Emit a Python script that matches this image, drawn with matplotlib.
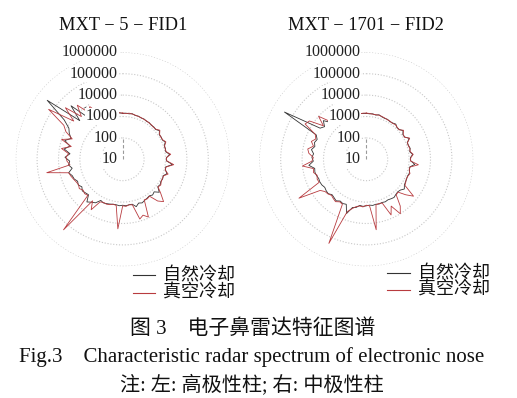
import numpy as np
import matplotlib
matplotlib.use("Agg")
import matplotlib.pyplot as plt
from matplotlib.lines import Line2D

plt.rcParams['font.family'] = ['Liberation Serif', 'Noto Sans CJK SC', 'DejaVu Sans']

# ---------------- data ----------------
titles = ["MXT − 5 − FID1", "MXT − 1701 − FID2"]
series_names = ["自然冷却", "真空冷却"]
tick_values = [10, 100, 1000, 10000, 100000, 1000000]
tick_labels = ["10", "100", "1000", "10000", "100000", "1000000"]

left_natural = [
    1400, 1450, 1400, 1500, 1350, 1400, 1300, 1350, 1250, 1300,
    1200, 1250, 1200, 1500, 1150, 1200, 1150, 1400, 1100, 1150,
    1100, 1600, 1100, 1100, 2200, 1100, 1150, 1500, 1100, 1200,
    1150, 1300, 1200, 2000, 1300, 1500, 1300, 1400, 1500, 1700,
    1500, 2000, 1400, 1400, 1500, 1400, 1500, 1400, 1400, 1500,
    1600, 1700, 1500, 2500, 3000, 4000, 2000, 2200, 2500, 2000,
    2500, 2200, 2800, 3000, 4000, 2500, 3500, 3000, 5000, 3000,
    6000, 3500, 7000, 4000, 6000, 8000, 20000, 300000, 5000, 30000,
    4000, 10000, 3000, 5000, 2500, 2200, 2000, 1800, 1600, 1500]

left_vacuum = [
    1450, 1400, 1500, 1450, 1400, 1350, 1350, 1300, 1300, 1250,
    1250, 1200, 1250, 1600, 1200, 1150, 1200, 1500, 1150, 1100,
    1150, 1800, 1100, 1150, 2500, 1150, 1100, 1700, 1150, 1150,
    1200, 1400, 1250, 2500, 5600, 3500, 1350, 1500, 1400, 9000,
    6000, 8000, 1500, 1400, 1600, 1500, 18000, 1500, 1400, 1600,
    1700, 1600, 1800, 6000, 2500, 200000, 2200, 2500, 2200, 2800,
    2400, 2600, 3000, 3500, 4000, 40000, 3000, 4000, 4500, 3500,
    8000, 3000, 10000, 3500, 9000, 15000, 150000, 8000, 40000, 6000,
    20000, 5000, 8000, 3000, 2600, 2200, 1900, 1700, 1600, 1500]

right_natural = [
    1400, 1350, 1400, 1300, 1450, 1300, 1250, 1300, 1200, 1250,
    1400, 1150, 1200, 1500, 1150, 1200, 1700, 1150, 1200, 1300,
    1150, 1500, 1150, 1200, 1900, 1150, 1200, 1300, 1200, 1250,
    1300, 1400, 1800, 1400, 1300, 1400, 1600, 1500, 1400, 1500,
    1400, 1500, 1400, 1500, 1400, 1500, 1600, 1500, 2000, 2200,
    5000, 2000, 2200, 2000, 2500, 2200, 2000, 2500, 2400, 2200,
    2500, 2600, 2500, 2800, 3000, 2800, 5000, 3000, 3500, 3000,
    4000, 3000, 3500, 3000, 4000, 260000, 4000, 3000, 5000, 2500,
    3000, 2200, 2000, 1800, 1700, 1600, 1500, 1500, 1450, 1400]

right_vacuum = [
    1450, 1400, 1350, 1350, 1400, 1350, 1300, 1250, 1250, 1200,
    1300, 1200, 1150, 1600, 1200, 1150, 1800, 1200, 1150, 1250,
    1200, 1600, 1200, 1150, 2800, 1200, 1150, 1400, 1250, 1200,
    1350, 1500, 6300, 3000, 1350, 1500, 5000, 10000, 3000, 7000,
    1500, 1400, 1500, 21000, 1500, 1400, 1700, 1600, 1800, 2500,
    4000, 200000, 2400, 2200, 2800, 2500, 2200, 2600, 2800, 4000,
    43000, 2800, 3000, 2600, 3500, 3200, 10000, 3500, 3000, 5000,
    6000, 3500, 5000, 3500, 4500, 20000, 16000, 3500, 10000, 3000,
    5000, 2500, 2200, 1900, 1700, 1600, 1600, 1500, 1400, 1450]

# ---------------- figure ----------------
W, H = 517, 398
fig = plt.figure(figsize=(W / 100, H / 100), dpi=100)

col_nat = '#333333'
col_vac = '#b83b3f'
ring_col = '#c8c8c8'

R = 107.0
centers = [(122.7, 159.3), (366.3, 159.3)]
datasets = [(left_natural, left_vacuum), (right_natural, right_vacuum)]

for k, ((cx, cy), (nat, vac), title) in enumerate(zip(centers, datasets, titles)):
    ax = fig.add_axes([(cx - R) / W, (H - cy - R) / H, 2 * R / W, 2 * R / H],
                      projection='polar')
    ax.set_theta_zero_location('N')
    ax.set_theta_direction(-1)
    ax.set_rscale('log')
    ax.set_rlim(10, 1e6)
    ax.set_xticks([])
    ax.set_rgrids(tick_values[1:], labels=[])
    ax.yaxis.grid(True, color=ring_col, linestyle=(0, (1, 1.6)), linewidth=0.8)
    ax.xaxis.grid(False)
    ax.spines['polar'].set_visible(False)
    ax.patch.set_alpha(0)

    n = len(nat)
    theta = np.linspace(0, 2 * np.pi, n, endpoint=False)
    th = np.append(theta, theta[0])
    ax.plot(th, np.append(nat, nat[0]), color=col_nat, lw=0.6, zorder=3)
    ax.plot(th, np.append(vac, vac[0]), color=col_vac, lw=0.6, zorder=4)

    ax.plot([0, 0], [10, 100], color='#9a9a9a', lw=0.8, ls=(0, (3, 2)), zorder=2)

    off = -3.4 if k == 0 else -4.3
    for v, lab in zip(tick_values, tick_labels):
        ax.annotate(lab, xy=(0, v), xytext=(off, 0), textcoords='offset points',
                    ha='right', va='center', fontsize=11.5, color='#222222',
                    annotation_clip=False, zorder=6,
                    bbox=dict(boxstyle='square,pad=0.05', fc='white', ec='none'))

    fig.text(cx / W, 1 - 25.5 / H, title, ha='center', va='center',
             fontsize=13.2, color='#111111')

# ---------------- legends ----------------
legend_pos = [((133, 155), 163, (275, 293)), ((387, 410), 418, (273, 290))]
for (x1, x2), tx, ys in legend_pos:
    for y, name, c in zip(ys, series_names, [col_nat, col_vac]):
        fig.add_artist(Line2D([x1 / W, x2 / W], [1 - y / H, 1 - y / H],
                              transform=fig.transFigure, color=c, lw=0.8))
        fig.text(tx / W, 1 - y / H, name, ha='left', va='center',
                 fontsize=13, family=['Noto Sans CJK SC'], color='#111111')

# ---------------- captions ----------------
fig.text(253 / W, 1 - 329 / H, "图 3\u3000电子鼻雷达特征图谱", ha='center', va='center',
         fontsize=15, color='#111111')
fig.text(252 / W, 1 - 357 / H, "Fig.3    Characteristic radar spectrum of electronic nose",
         ha='center', va='center', fontsize=15, color='#111111')
fig.text(252 / W, 1 - 385 / H, "注: 左: 高极性柱; 右: 中极性柱", ha='center', va='center',
         fontsize=14.5, color='#111111')

fig.savefig('out.png', dpi=100)
